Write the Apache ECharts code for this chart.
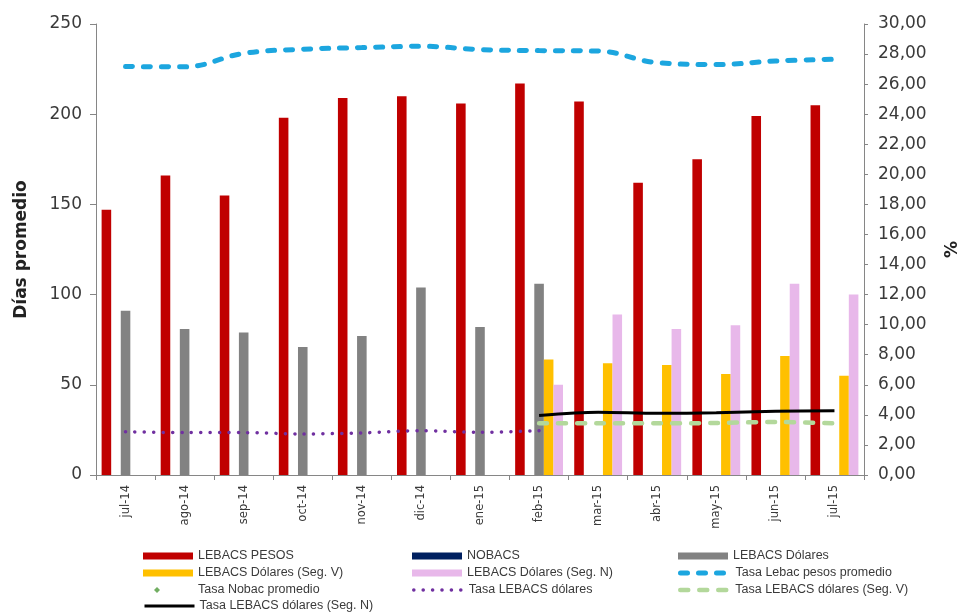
<!DOCTYPE html>
<html>
<head>
<meta charset="utf-8">
<script src="https://cdn.jsdelivr.net/npm/echarts@6/dist/echarts.min.js"></script>
<style>
  html, body { margin: 0; padding: 0; background: #ffffff; }
  #chart { width: 958px; height: 614px; }
</style>
</head>
<body>
<div id="chart"></div>
<script>
// Months on the category axis
const months = ['jul-14', 'ago-14', 'sep-14', 'oct-14', 'nov-14', 'dic-14', 'ene-15',
                'feb-15', 'mar-15', 'abr-15', 'may-15', 'jun-15', 'jul-15'];

// Average days (left axis)
const lebacsPesos       = [147, 166, 155, 198, 209, 210, 206, 217, 207, 162, 175, 199, 205];
const nobacs            = [null, null, null, null, null, null, null, null, null, null, null, null, null];
const lebacsDolares     = [91, 81, 79, 71, 77, 104, 82, 106, null, null, null, null, null];
const lebacsDolaresSegV = [null, null, null, null, null, null, null, 64, 62, 61, 56, 66, 55];
const lebacsDolaresSegN = [null, null, null, null, null, null, null, 50, 89, 81, 83, 106, 100];

// Rates in % (right axis)
const tasaLebacPesos        = [27.17, 27.15, 28.05, 28.32, 28.43, 28.52, 28.30, 28.23, 28.20, 27.43, 27.30, 27.54, 27.66];
const tasaNobac             = [null, null, null, null, null, null, null, null, null, null, null, null, null];
const tasaLebacsDolares     = [2.88, 2.82, 2.82, 2.73, 2.80, 2.95, 2.84, 2.95, null, null, null, null, null];
const tasaLebacsDolaresSegV = [null, null, null, null, null, null, null, 3.44, 3.44, 3.44, 3.46, 3.53, 3.44];
const tasaLebacsDolaresSegN = [null, null, null, null, null, null, null, 3.95, 4.17, 4.10, 4.14, 4.24, 4.28];

// Axis scales: [min, max, step]
const diasScale = [0, 250, 50];
const tasaScale = [0, 30, 2];

const AXIS_COLOR = '#868686';
const TEXT_COLOR = '#3a3a3a';
const LEGEND_FONT = { fontFamily: 'Liberation Sans, Arial, sans-serif', fontSize: 12.5, color: TEXT_COLOR, lineHeight: 14 };

// Stroke styles shared by each line series and its legend entry
const STYLE_PESOS = { color: '#1CA6DF', width: 5, type: [7, 11], cap: 'round' };
const STYLE_DOL   = { color: '#7030A0', width: 3.5, type: [0.1, 9.3], cap: 'round' };
const STYLE_SEGV  = { color: '#B3D89B', width: 4.5, type: [8, 11], cap: 'round' };
const STYLE_SEGN  = { color: '#000000', width: 3 };

function legendAt(name, left, rowCenter, extra) {
  return Object.assign({
    data: [name],
    left: left,
    top: rowCenter - 7,
    padding: 0,
    itemWidth: 50,
    itemHeight: 7,
    itemGap: 0,
    selectedMode: false,
    textStyle: Object.assign({}, LEGEND_FONT)
  }, extra || {});
}

// Line legends show only the stroke, without a symbol in the middle
function lineLegendAt(name, left, rowCenter, stroke) {
  return legendAt(name, left, rowCenter, {
    itemHeight: 14,
    itemStyle: { opacity: 0 },
    lineStyle: Object.assign({}, stroke, { type: stroke.type || 'solid' })
  });
}

const col1 = 143, col2 = 412, col3 = 678;
const row1 = 556, row2 = 573, row3 = 590, row4 = 606;

const chart = echarts.init(document.getElementById('chart'), null, { renderer: 'canvas' });

chart.setOption({
  backgroundColor: '#ffffff',
  animation: false,
  grid: { left: 96, right: 94, top: 24, bottom: 139, containLabel: false, outerBoundsMode: 'none' },
  legend: [
    legendAt('LEBACS PESOS', col1, row1, { icon: 'rect' }),
    legendAt('NOBACS', col2, row1, { icon: 'rect' }),
    legendAt('LEBACS Dólares', col3, row1, { icon: 'rect' }),
    legendAt('LEBACS Dólares (Seg. V)', col1, row2, { icon: 'rect' }),
    legendAt('LEBACS Dólares (Seg. N)', col2, row2, { icon: 'rect' }),
    lineLegendAt('Tasa Lebac pesos promedio', col3, row2, STYLE_PESOS),
    legendAt('Tasa Nobac promedio', col1 + 11, row3, {
      icon: 'diamond', itemWidth: 6, itemHeight: 6,
      textStyle: Object.assign({}, LEGEND_FONT, { padding: [0, 0, 0, 33] })
    }),
    lineLegendAt('Tasa LEBACS dólares', col2, row3, STYLE_DOL),
    lineLegendAt('Tasa LEBACS dólares (Seg. V)', col3, row3, STYLE_SEGV),
    lineLegendAt('Tasa LEBACS dólares (Seg. N)', col1, row4, STYLE_SEGN)
  ],
  xAxis: {
    type: 'category',
    data: months,
    axisLine: { lineStyle: { color: AXIS_COLOR, width: 1 } },
    axisTick: { show: true, length: 5, lineStyle: { color: AXIS_COLOR } },
    axisLabel: {
      rotate: 90,
      margin: 10,
      color: TEXT_COLOR,
      fontFamily: 'DejaVu Sans, sans-serif',
      fontSize: 11.5
    },
    splitLine: { show: false }
  },
  yAxis: [
    {
      type: 'value',
      position: 'left',
      min: diasScale[0], max: diasScale[1], interval: diasScale[2],
      name: 'Días promedio',
      nameLocation: 'middle',
      nameRotate: 90,
      nameGap: 66,
      nameTextStyle: { fontFamily: 'DejaVu Sans, sans-serif', fontWeight: 'bold', fontSize: 17, color: '#222' },
      axisLine: { show: true, lineStyle: { color: AXIS_COLOR } },
      axisTick: { show: true, length: 6, lineStyle: { color: AXIS_COLOR } },
      axisLabel: { margin: 14, color: TEXT_COLOR, fontFamily: 'DejaVu Sans, sans-serif', fontSize: 17 },
      splitLine: { show: false }
    },
    {
      type: 'value',
      position: 'right',
      min: tasaScale[0], max: tasaScale[1], interval: tasaScale[2],
      name: '%',
      nameLocation: 'middle',
      nameRotate: 90,
      nameGap: 80,
      nameTextStyle: { fontFamily: 'DejaVu Sans, sans-serif', fontWeight: 'bold', fontSize: 17, color: '#222' },
      axisLine: { show: true, lineStyle: { color: AXIS_COLOR } },
      axisTick: { show: true, length: 4, lineStyle: { color: AXIS_COLOR } },
      axisLabel: {
        margin: 14, color: TEXT_COLOR, fontFamily: 'DejaVu Sans, sans-serif', fontSize: 17,
        formatter: v => v.toFixed(2).replace('.', ',')
      },
      splitLine: { show: false }
    }
  ],
  series: [
    { name: 'LEBACS PESOS', type: 'bar', data: lebacsPesos, barGap: '0%', barCategoryGap: '19%',
      itemStyle: { color: '#C00000' } },
    { name: 'NOBACS', type: 'bar', data: nobacs, itemStyle: { color: '#002060' } },
    { name: 'LEBACS Dólares', type: 'bar', data: lebacsDolares, itemStyle: { color: '#828282' } },
    { name: 'LEBACS Dólares (Seg. V)', type: 'bar', data: lebacsDolaresSegV, itemStyle: { color: '#FFC000' } },
    { name: 'LEBACS Dólares (Seg. N)', type: 'bar', data: lebacsDolaresSegN, itemStyle: { color: '#E8B8EA' } },
    { name: 'Tasa Lebac pesos promedio', type: 'line', yAxisIndex: 1, data: tasaLebacPesos,
      smooth: 0.4, symbol: 'none', z: 5,
      lineStyle: STYLE_PESOS, itemStyle: { color: STYLE_PESOS.color } },
    { name: 'Tasa Nobac promedio', type: 'scatter', yAxisIndex: 1, data: tasaNobac,
      symbol: 'diamond', symbolSize: 6, itemStyle: { color: '#4E9A3A' } },
    { name: 'Tasa LEBACS dólares', type: 'line', yAxisIndex: 1, data: tasaLebacsDolares,
      smooth: 0.3, symbol: 'none', z: 5,
      lineStyle: STYLE_DOL, itemStyle: { color: STYLE_DOL.color } },
    { name: 'Tasa LEBACS dólares (Seg. V)', type: 'line', yAxisIndex: 1, data: tasaLebacsDolaresSegV,
      smooth: 0.3, symbol: 'none', z: 5,
      lineStyle: STYLE_SEGV, itemStyle: { color: STYLE_SEGV.color } },
    { name: 'Tasa LEBACS dólares (Seg. N)', type: 'line', yAxisIndex: 1, data: tasaLebacsDolaresSegN,
      smooth: 0.3, symbol: 'none', z: 6,
      lineStyle: STYLE_SEGN, itemStyle: { color: STYLE_SEGN.color } }
  ]
});
</script>
</body>
</html>
